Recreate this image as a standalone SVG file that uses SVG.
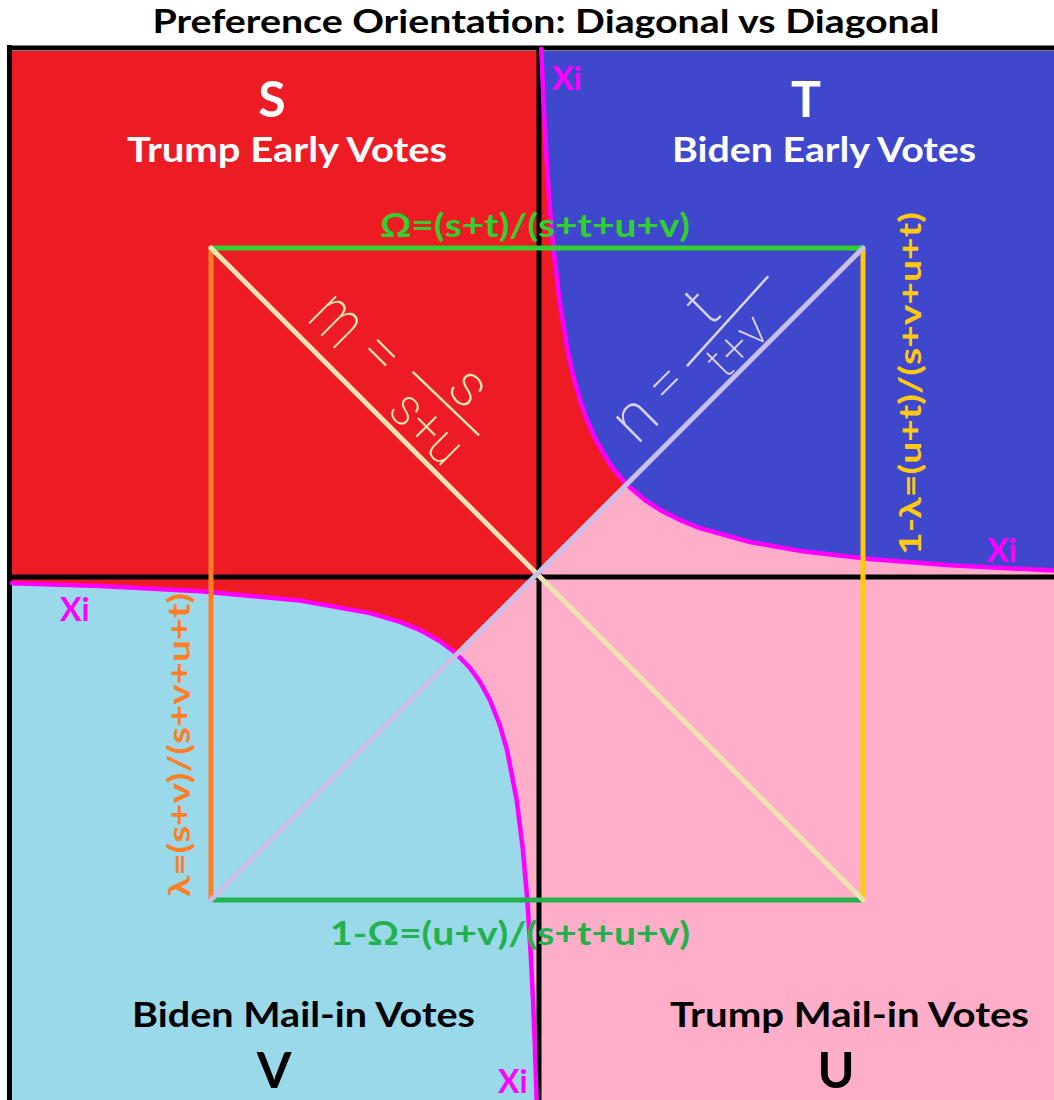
<svg xmlns="http://www.w3.org/2000/svg" width="1054" height="1100" viewBox="0 0 1054 1100">
<style>
.lbl{font-family:Lato,"Liberation Sans","DejaVu Sans",sans-serif;font-weight:bold}
.blk{fill:#000}
.xi{fill:#ff00ff;font-size:32px}
.hw{font-family:Roboto,"Open Sans","DejaVu Sans",sans-serif;font-weight:200}
.div{stroke:#000;stroke-width:5;fill:none}
.mag{stroke:#ff00ff;stroke-width:4.5;fill:none;stroke-linejoin:round;stroke-linecap:round}
</style>
<rect width="1054" height="1100" fill="#fff"/>
<g id="regions">
<rect x="12" y="51" width="1042" height="1049" fill="#ffaec9"/>
<polygon points="12,51 1054,51 1054,55.7 12,1099.3" fill="#ed1c24"/>
<path d="M541.3,51 L543.4,100 546,150 549.3,200 553.6,250 559.4,300 567.5,350 573,375 579.9,400 586.9,420 595.7,440 610,464.2 620,477 630,487.5 645,500 660,509.9 680,520.1 700,528.1 750,542 800,550.9 870,559.1 950,565.3 1054,570.5 L1054,51 Z" fill="#3f48cc"/>
<path d="M12,583.2 L100,586.1 200,591.3 300,600.5 370,613.1 400,621.9 420,630.1 440,641.2 455,652.5 470,668 480,681.9 489.9,700 499.8,725 507,750 516.7,800 522.9,850 527.3,900 530.5,950 533,1000 535,1050 536.6,1100 L12,1100 Z" fill="#99d9ea"/>
</g>
<g id="frame">
<line class="div" x1="9.5" y1="45" x2="9.5" y2="1100"/>
<line class="div" x1="7" y1="48" x2="1054" y2="48" stroke-width="6"/>
<line class="div" x1="539" y1="48" x2="539" y2="1100"/>
<line class="div" x1="7" y1="577" x2="1054" y2="577"/>
</g>
<g id="connectors">
<polyline class="mag" points="541.3,49 543.4,100 546,150 549.3,200 553.6,250 559.4,300 567.5,350 573,375 579.9,400 586.9,420 595.7,440 610,464.2 620,477 630,487.5 645,500 660,509.9 680,520.1 700,528.1 750,542 800,550.9 870,559.1 950,565.3 1054,570.5"/>
<polyline class="mag" points="12,583.2 100,586.1 200,591.3 300,600.5 370,613.1 400,621.9 420,630.1 440,641.2 455,652.5 470,668 480,681.9 489.9,700 499.8,725 507,750 516.7,800 522.9,850 527.3,900 530.5,950 533,1000 535,1050 536.6,1100"/>
<line x1="211" y1="248" x2="863" y2="248" stroke="#2fd02f" stroke-width="5"/>
<line x1="211" y1="900" x2="863" y2="900" stroke="#22b14c" stroke-width="5"/>
<line x1="211" y1="248" x2="211" y2="900" stroke="#ff7f27" stroke-width="5"/>
<line x1="863" y1="248" x2="863" y2="900" stroke="#ffc90e" stroke-width="5"/>
<line x1="211" y1="248" x2="863" y2="900" stroke="#efe4b0" stroke-width="5" stroke-linecap="round"/>
<line x1="211" y1="900" x2="863" y2="248" stroke="#c8bfe7" stroke-width="5" stroke-linecap="round"/>
</g>
<g id="title"><text class="lbl blk" x="546" y="33" font-size="32" text-anchor="middle" textLength="787" lengthAdjust="spacingAndGlyphs">Preference Orientation: Diagonal vs Diagonal</text></g>
<g id="node-S" fill="#fff">
<text class="lbl" x="272" y="117" font-size="50" text-anchor="middle">S</text>
<text class="lbl" x="287" y="162" font-size="34" text-anchor="middle" textLength="320" lengthAdjust="spacingAndGlyphs">Trump Early Votes</text>
</g>
<g id="node-T" fill="#fff">
<text class="lbl" x="806" y="117" font-size="50" text-anchor="middle">T</text>
<text class="lbl" x="824" y="162" font-size="34" text-anchor="middle" textLength="304" lengthAdjust="spacingAndGlyphs">Biden Early Votes</text>
</g>
<g id="node-V" fill="#000">
<text class="lbl" x="303.5" y="1027" font-size="34" text-anchor="middle" textLength="343" lengthAdjust="spacingAndGlyphs">Biden Mail-in Votes</text>
<text class="lbl" x="274" y="1088" font-size="50" text-anchor="middle">V</text>
</g>
<g id="node-U" fill="#000">
<text class="lbl" x="849.5" y="1027" font-size="34" text-anchor="middle" textLength="359" lengthAdjust="spacingAndGlyphs">Trump Mail-in Votes</text>
<text class="lbl" x="836" y="1088" font-size="50" text-anchor="middle">U</text>
</g>
<g id="formulas">
<text class="lbl" x="535" y="237" font-size="32" fill="#2fd02f" text-anchor="middle" textLength="310" lengthAdjust="spacingAndGlyphs">Ω=(s+t)/(s+t+u+v)</text>
<text class="lbl" x="510" y="945" font-size="32" fill="#22b14c" text-anchor="middle" textLength="360" lengthAdjust="spacingAndGlyphs">1-Ω=(u+v)/(s+t+u+v)</text>
<text class="lbl" transform="translate(190,745) rotate(-90)" font-size="31" fill="#ff7f27" text-anchor="middle" textLength="304" lengthAdjust="spacingAndGlyphs">λ=(s+v)/(s+v+u+t)</text>
<text class="lbl" transform="translate(921,383.5) rotate(-90)" font-size="31" fill="#ffc90e" text-anchor="middle" textLength="343" lengthAdjust="spacingAndGlyphs">1-λ=(u+t)/(s+v+u+t)</text>
</g>
<g id="xi-labels" class="lbl">
<text class="xi" x="552" y="90">Xi</text>
<text class="xi" x="987" y="562">Xi</text>
<text class="xi" x="60" y="621">Xi</text>
<text class="xi" x="498" y="1093">Xi</text>
</g>
<g id="m-formula" transform="translate(211,248) rotate(45)" fill="#f3e6b3">
<text class="hw" x="118" y="-16" font-size="72" textLength="44" lengthAdjust="spacingAndGlyphs">m</text>
<text class="hw" x="178" y="-27" font-size="60">=</text>
<line x1="231" y1="-55" x2="321" y2="-57" stroke="#f3e6b3" stroke-width="2.5" stroke-linecap="round"/>
<text class="hw" x="281" y="-65" font-size="60" text-anchor="middle">s</text>
<text class="hw" x="280" y="-8" font-size="54" text-anchor="middle" textLength="80" lengthAdjust="spacingAndGlyphs">s+u</text>
</g>
<g id="n-formula" transform="translate(211,900) rotate(-45)" fill="#d8d4f0">
<text class="hw" x="640" y="-20" font-size="66" text-anchor="middle" textLength="36" lengthAdjust="spacingAndGlyphs">n</text>
<text class="hw" x="687" y="-26" font-size="56" text-anchor="middle">=</text>
<line x1="715" y1="-41" x2="834" y2="-47" stroke="#d8d4f0" stroke-width="2.5" stroke-linecap="round"/>
<text class="hw" x="766" y="-52" font-size="62" text-anchor="middle">t</text>
<text class="hw" x="764" y="-4" font-size="48" text-anchor="middle" textLength="66" lengthAdjust="spacingAndGlyphs">t+v</text>
</g>
</svg>
